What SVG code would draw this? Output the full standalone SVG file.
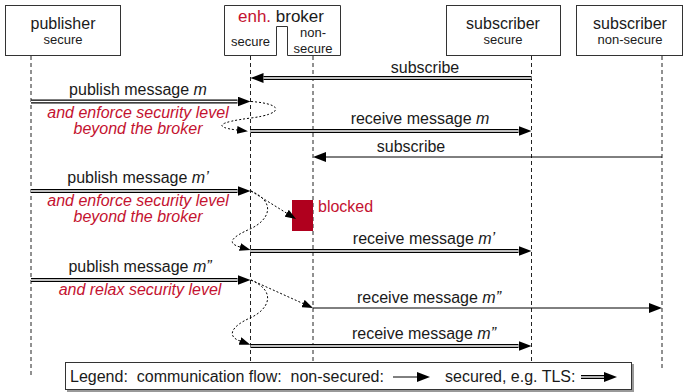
<svg xmlns="http://www.w3.org/2000/svg" width="684" height="392" viewBox="0 0 684 392">
<defs>
<marker id="ah" viewBox="0 0 13 10" refX="0" refY="5" markerWidth="13" markerHeight="10" markerUnits="userSpaceOnUse" orient="auto"><path d="M0,0L13,5L0,10z" fill="#000"/></marker>
<marker id="ahs" viewBox="0 0 11 8" refX="0" refY="4" markerWidth="11" markerHeight="8" markerUnits="userSpaceOnUse" orient="auto"><path d="M0,0L11,4L0,8z" fill="#000"/></marker>
</defs>
<style>
text{font-family:"Liberation Sans",Arial,Helvetica,sans-serif;fill:#1a1a1a}
.t{font-size:16px}
.h{font-size:17px}
.s{font-size:13px}
.r{fill:#c41230;font-style:italic;font-size:16px}
.red{fill:#c41230}
.i{font-style:italic}
.box{fill:#fff;stroke:#333;stroke-width:1}
.life{stroke:#222;stroke-width:1;stroke-dasharray:4 3;fill:none}
.dbl{stroke:#000;stroke-width:4;fill:none;marker-end:url(#ah)}
.din{stroke:#fff;stroke-width:1.4;fill:none}
.sgl{stroke:#000;stroke-width:1;fill:none;marker-end:url(#ah)}
.dot{stroke:#000;stroke-width:1;stroke-dasharray:2 2;fill:none;marker-end:url(#ahs)}
</style>
<rect width="684" height="392" fill="#fff"/>

<g id="publisher">
<rect class="box" x="5.5" y="5.5" width="115" height="50"/>
<text class="t" x="63" y="29" text-anchor="middle">publisher</text>
<text class="s" x="63" y="44" text-anchor="middle">secure</text>
<line class="life" x1="31" y1="56" x2="31" y2="377"/>
</g>

<g id="broker">
<path class="box" d="M224.5,5.5H340.5V55.5H287.5V26.5H276.5V55.5H224.5Z"/>
<text class="h" x="281" y="22" text-anchor="middle"><tspan class="red">enh.</tspan> broker</text>
<text class="s" x="250.5" y="46" text-anchor="middle">secure</text>
<text class="s" x="313" y="37" text-anchor="middle">non-</text>
<text class="s" x="313" y="53" text-anchor="middle">secure</text>
<line class="life" x1="250.5" y1="56" x2="250.5" y2="362"/>
<line class="life" x1="313" y1="56" x2="313" y2="362"/>
</g>

<g id="subscriber-secure">
<rect class="box" x="446.5" y="5.5" width="114" height="50"/>
<text class="t" x="503" y="29" text-anchor="middle">subscriber</text>
<text class="s" x="503" y="44" text-anchor="middle">secure</text>
<line class="life" x1="531.5" y1="56" x2="531.5" y2="362"/>
</g>

<g id="subscriber-nonsecure">
<rect class="box" x="576.5" y="5.5" width="106" height="50"/>
<text class="t" x="630" y="29" text-anchor="middle">subscriber</text>
<text class="s" x="630" y="44" text-anchor="middle">non-secure</text>
<line class="life" x1="662" y1="56" x2="662" y2="369"/>
</g>

<g id="blocked">
<rect x="292" y="200" width="21" height="31" fill="#b0001e"/>
<text class="t red" x="318" y="212">blocked</text>
</g>

<g id="connectors">
<path class="dbl" d="M531.5,78H263.5"/><path class="din" d="M531.5,78H263.5"/>
<path class="dbl" d="M31,101.5H237.5"/><path class="din" d="M31,101.5H237.5"/>
<path class="dbl" d="M250.5,131H518.5"/><path class="din" d="M250.5,131H518.5"/>
<path class="sgl" d="M662,157H326"/>
<path class="dbl" d="M31,191H237.5"/><path class="din" d="M31,191H237.5"/>
<path class="dbl" d="M250.5,251H518.5"/><path class="din" d="M250.5,251H518.5"/>
<path class="dbl" d="M31,280H237.5"/><path class="din" d="M31,280H237.5"/>
<path class="sgl" d="M313,308H649"/>
<path class="dbl" d="M250.5,346H518.5"/><path class="din" d="M250.5,346H518.5"/>
<path class="dot" d="M251,101.5C285,104 283,114 251,118C219,122 212,127 237,130"/>
<path class="dot" d="M251,191L286.7,213.2"/>
<path class="dot" d="M251,191C278,203 268,221 250,229C232,237 226,243 240,247"/>
<path class="dot" d="M251,280L303,303.5"/>
<path class="dot" d="M251,280C278,292 268,310 250,318C232,326 226,336 240,341"/>
</g>

<g id="labels">
<text class="t" x="425" y="73" text-anchor="middle">subscribe</text>
<text class="t" x="138" y="95" text-anchor="middle">publish message <tspan class="i">m</tspan></text>
<text class="r" x="138" y="118" text-anchor="middle">and enforce security level</text>
<text class="r" x="138" y="134" text-anchor="middle">beyond the broker</text>
<text class="t" x="420" y="124" text-anchor="middle">receive message <tspan class="i">m</tspan></text>
<text class="t" x="411" y="152" text-anchor="middle">subscribe</text>
<text class="t" x="138" y="183" text-anchor="middle">publish message <tspan class="i">m’</tspan></text>
<text class="r" x="138" y="206" text-anchor="middle">and enforce security level</text>
<text class="r" x="138" y="222" text-anchor="middle">beyond the broker</text>
<text class="t" x="424" y="244" text-anchor="middle">receive message <tspan class="i">m’</tspan></text>
<text class="t" x="140" y="272" text-anchor="middle">publish message <tspan class="i">m”</tspan></text>
<text class="r" x="140" y="295" text-anchor="middle">and relax security level</text>
<text class="t" x="429" y="303" text-anchor="middle">receive message <tspan class="i">m”</tspan></text>
<text class="t" x="424" y="339" text-anchor="middle">receive message <tspan class="i">m”</tspan></text>
</g>

<g id="legend">
<rect x="67" y="364" width="567" height="28" fill="#999"/>
<rect class="box" x="65.5" y="362.5" width="566" height="27"/>
<text class="t" x="70" y="382" style="white-space:pre">Legend:  communication flow:  non-secured:</text>
<path class="sgl" d="M393,377H417"/>
<text class="t" x="445" y="382">secured, e.g. TLS:</text>
<path class="dbl" d="M581,377H604"/><path class="din" d="M581,377H604"/>
</g>
</svg>
